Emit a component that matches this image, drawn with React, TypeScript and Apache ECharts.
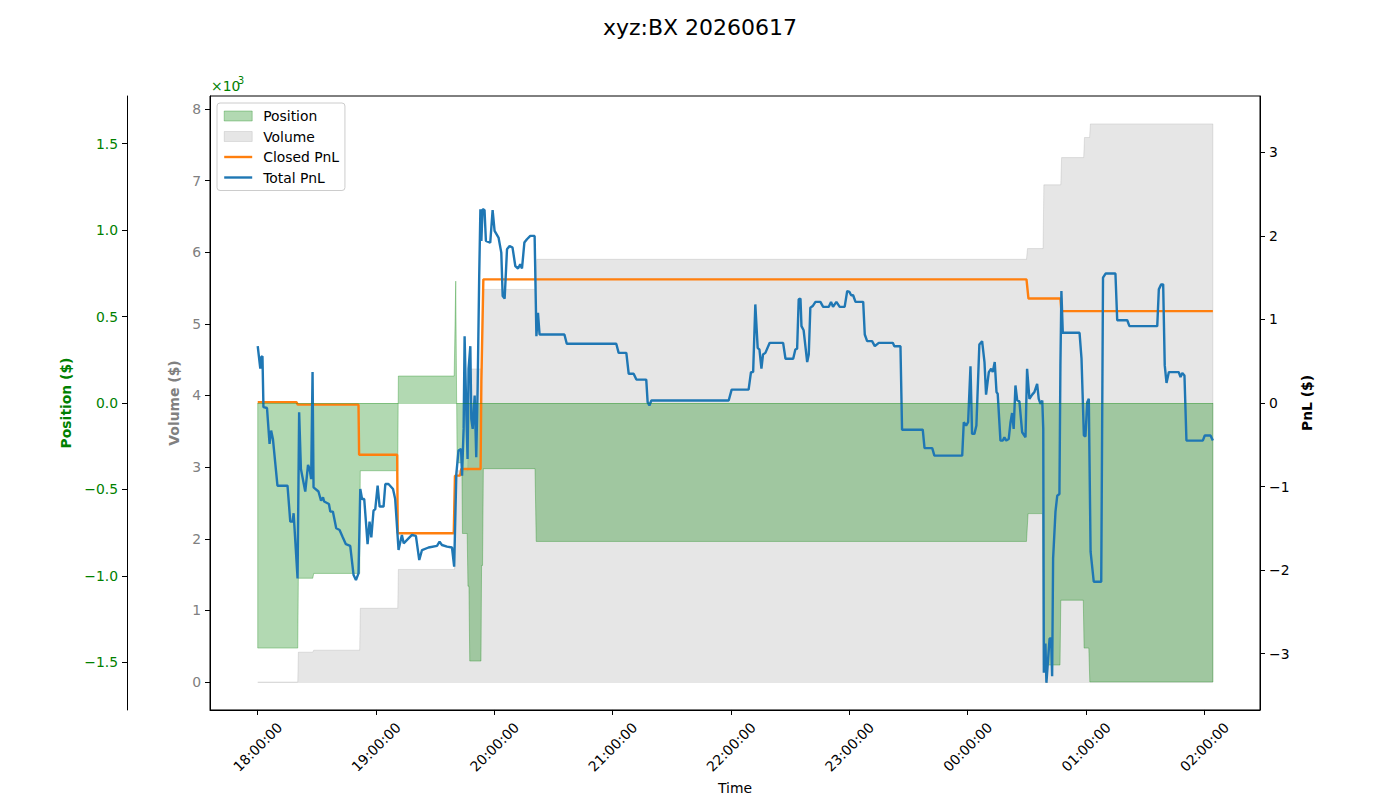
import React, { useEffect, useRef } from 'react';
import * as echarts from 'echarts';

const TITLE = 'xyz:BX 20260617';
const TIME_LABELS = ['18:00:00', '19:00:00', '20:00:00', '21:00:00', '22:00:00', '23:00:00', '00:00:00', '01:00:00', '02:00:00'];
const TICK_MINUTES = TIME_LABELS.map((_, i) => i * 60);
const X_MIN = -24.2;
const X_MAX = 508.2;

// Position ($), minutes since 18:00
const POSITION: [number, number][] = [
  [0, -1418], [20.3, -1418], [20.6, -1014], [27.9, -1014], [28.4, -986], [51.7, -986],
  [52.0, -392], [71.0, -392], [71.3, 156], [99.6, 156], [100.4, 705], [101.1, -346],
  [103.5, -346], [103.8, -755], [106.2, -755], [106.6, -1060], [107.1, -1060], [107.5, -1493],
  [113.2, -1493], [113.5, -940], [114.0, -940], [114.4, -380], [140.6, -380], [141.2, -801],
  [389.8, -801], [390.6, -640], [398.0, -640], [398.4, -1516], [406.8, -1516], [407.2, -1141],
  [418.6, -1141], [419.0, -1418], [421.4, -1418], [421.9, -1614], [484.3, -1614],
];

// Volume ($)
const VOLUME: [number, number][] = [
  [0, 0], [20.3, 0], [20.6, 417], [27.9, 417], [28.4, 445], [51.7, 445], [52.0, 1030],
  [71.0, 1030], [71.3, 1572], [99.8, 1572], [100.5, 2950], [106.5, 2950], [107.0, 4370],
  [113.6, 4370], [114.0, 5480], [141.0, 5480], [141.5, 5900], [389.8, 5900], [390.3, 6050],
  [398.2, 6050], [398.6, 6940], [407.2, 6940], [407.6, 7320], [418.8, 7320], [419.2, 7600],
  [421.8, 7600], [422.2, 7790], [484.3, 7790],
];

// Closed PnL ($)
const CLOSED_PNL: [number, number][] = [
  [0, 0.01], [19.7, 0.01], [20.3, -0.02], [51.1, -0.02], [51.4, -0.62], [70.7, -0.62],
  [71.0, -1.56], [99.4, -1.56], [100.0, -0.87], [102.6, -0.87], [103.2, -0.79], [113.0, -0.79],
  [113.4, 0.26], [114.4, 1.48], [389.8, 1.48], [390.8, 1.25], [407.0, 1.25], [407.5, 1.10],
  [484.3, 1.10],
];

// Total PnL ($)
const TOTAL_PNL: [number, number][] = [
  [0, 0.68], [1.3, 0.41], [1.8, 0.55], [2.4, 0.56], [2.9, -0.05], [4.7, -0.06], [6.0, -0.49],
  [6.8, -0.33], [7.7, -0.43], [10.0, -0.99], [15.1, -0.99], [16.5, -1.42], [17.7, -1.42],
  [18.2, -1.32], [20.2, -2.10], [21.0, -0.11], [21.9, -0.79], [24.1, -1.06], [25.5, -0.74],
  [26.3, -0.79], [27.1, -0.91], [27.8, 0.37], [28.3, -1.01], [30.8, -1.06], [32.1, -1.17],
  [33.1, -1.13], [33.7, -1.18], [36.1, -1.21], [36.8, -1.30], [38.1, -1.30], [39.8, -1.50],
  [41.5, -1.52], [43.0, -1.60], [44.7, -1.69], [46.9, -1.71], [48.6, -2.06], [49.8, -2.12],
  [51.1, -2.04], [52.0, -1.03], [52.9, -1.15], [54.0, -1.15], [55.7, -1.69], [56.7, -1.42],
  [57.6, -1.61], [58.7, -1.29], [59.6, -1.27], [60.8, -0.99], [61.8, -1.24], [63.8, -1.24],
  [64.7, -0.97], [66.3, -0.97], [68.6, -1.03], [69.7, -1.15], [71.4, -1.76], [73.1, -1.58],
  [74.0, -1.68], [78.2, -1.58], [80.2, -1.59], [81.9, -1.88], [83.3, -1.76], [86.6, -1.73],
  [90.9, -1.71], [92.2, -1.66], [93.4, -1.70], [96.0, -1.72], [98.5, -1.73], [99.6, -1.96],
  [100.7, -0.85], [101.8, -0.57], [103.1, -0.55], [103.6, -0.87], [104.4, -0.31], [104.9, 0.80],
  [105.8, -0.15], [106.4, -0.67], [106.9, 0.41], [107.8, 0.68], [108.3, -0.19], [109.0, -0.31],
  [110.0, 0.09], [110.8, -0.65], [111.5, 0.17], [112.3, 1.52], [112.9, 2.32], [113.4, 1.94],
  [114.0, 2.32], [115.0, 2.31], [115.7, 1.94], [117.9, 1.92], [119.1, 2.31], [120.1, 2.06],
  [122.1, 1.98], [123.5, 1.80], [124.2, 1.28], [125.2, 1.25], [126.4, 1.84], [127.7, 1.88],
  [129.2, 1.86], [130.6, 1.64], [132.0, 1.61], [133.1, 1.66], [134.0, 1.61], [135.2, 1.92],
  [136.5, 1.96], [138.2, 2.00], [140.4, 2.00], [141.3, 0.80], [142.1, 1.08], [142.9, 0.82],
  [155.5, 0.82], [156.7, 0.71], [181.8, 0.71], [183.0, 0.60], [186.9, 0.60], [188.1, 0.35],
  [190.6, 0.35], [192.0, 0.28], [197.0, 0.28], [197.7, 0.01], [198.6, -0.03], [199.6, 0.03],
  [238.8, 0.03], [240.3, 0.16], [248.9, 0.16], [250.1, 0.37], [251.2, 0.37], [252.3, 1.18],
  [253.5, 0.66], [254.4, 0.64], [255.4, 0.41], [256.2, 0.58], [257.4, 0.60], [259.6, 0.72],
  [266.4, 0.72], [267.6, 0.53], [271.5, 0.53], [272.6, 0.64], [273.5, 0.65], [274.3, 1.24],
  [275.2, 1.25], [275.7, 0.92], [276.8, 0.87], [278.6, 0.49], [279.4, 0.58], [280.2, 1.14],
  [281.4, 1.16], [282.8, 1.21], [285.3, 1.21], [286.7, 1.15], [289.5, 1.15], [290.7, 1.21],
  [291.7, 1.15], [293.4, 1.21], [295.1, 1.15], [297.6, 1.15], [298.9, 1.34], [300.0, 1.33],
  [300.9, 1.29], [301.9, 1.29], [303.1, 1.21], [307.0, 1.21], [307.8, 0.82], [309.0, 0.74],
  [311.5, 0.74], [312.9, 0.68], [314.9, 0.72], [322.0, 0.72], [322.8, 0.68], [325.9, 0.68],
  [326.7, -0.32], [337.2, -0.32], [338.1, -0.54], [342.0, -0.54], [343.1, -0.63], [357.2, -0.63],
  [358.0, -0.23], [359.2, -0.27], [360.2, -0.23], [361.4, 0.44], [362.2, -0.37], [363.4, -0.37],
  [364.4, -0.27], [365.9, 0.70], [367.3, 0.74], [368.5, 0.49], [369.3, 0.10], [370.7, 0.37],
  [371.9, 0.41], [372.7, 0.37], [373.7, 0.49], [374.6, 0.13], [375.2, 0.11], [376.6, -0.45],
  [377.8, -0.45], [378.6, -0.41], [379.5, -0.45], [380.8, -0.43], [381.7, -0.23], [382.5, -0.12],
  [383.3, -0.31], [384.2, 0.21], [385.1, 0.03], [386.2, 0.02], [387.6, -0.35], [389.3, -0.41],
  [390.1, 0.41], [391.3, 0.05], [392.7, 0.10], [393.8, 0.13], [395.2, 0.23], [396.0, 0.05],
  [396.9, -0.01], [397.8, 0.03], [398.3, -0.31], [398.6, -3.23], [399.4, -2.88], [399.9, -3.35],
  [401.5, -2.82], [402.3, -2.82], [402.8, -3.27], [403.3, -1.86], [404.5, -1.30], [405.4, -1.11],
  [406.5, -1.09], [407.0, 0.45], [407.5, 1.34], [408.2, 0.84], [416.7, 0.84], [417.7, 0.53],
  [418.9, -0.39], [419.7, -0.40], [420.6, 0.01], [421.4, 0.05], [422.3, -1.78], [423.9, -2.14],
  [427.7, -2.14], [428.6, 1.50], [429.9, 1.55], [434.9, 1.55], [435.8, 0.99], [440.9, 0.99],
  [442.0, 0.92], [456.1, 0.92], [456.9, 1.36], [458.1, 1.42], [459.1, 1.42], [459.9, 0.45],
  [460.8, 0.24], [462.0, 0.37], [467.0, 0.37], [467.9, 0.31], [468.8, 0.36], [469.9, 0.33],
  [470.9, -0.45], [479.2, -0.45], [480.2, -0.39], [483.1, -0.39], [484.3, -0.45],
];

const VOL_TICKS = [0, 1000, 2000, 3000, 4000, 5000, 6000, 7000, 8000];
const POS_TICKS = [-1500, -1000, -500, 0, 500, 1000, 1500];
const PNL_TICKS = [-3, -2, -1, 0, 1, 2, 3];

const FONT = 'DejaVu Sans';
const FS = 13.9;
const POS_COLOR = 'rgba(0,128,0,0.3)';
const VOL_COLOR = 'rgba(128,128,128,0.2)';
const CLOSED_COLOR = '#ff7f0e';
const TOTAL_COLOR = '#1f77b4';
const LW = 2.4;
const minus = (s: string) => s.replace('-', '\u2212');

const closeArea = (arr: [number, number][]) => [
  [arr[0][0], 0],
  ...arr,
  [arr[arr.length - 1][0], 0],
];

const baseline = (arr: [number, number][], color: string) => ({
  silent: true,
  symbol: ['none', 'none'],
  label: { show: false },
  lineStyle: { color, width: 1, type: 'solid' },
  emphasis: { disabled: true },
  data: [[{ coord: [arr[0][0], 0] }, { coord: [arr[arr.length - 1][0], 0] }]],
});

export default function App() {
  const ref = useRef<HTMLDivElement>(null);
  useEffect(() => {
    document.body.style.margin = '0';
    if (!ref.current) return;
    const chart = echarts.init(ref.current, undefined, { renderer: 'svg' });
    const yAxisCommon = {
      type: 'value',
      splitLine: { show: false },
      axisLine: { show: true, onZero: false, lineStyle: { color: '#000', width: 1 } },
    };
    chart.setOption({
      animation: false,
      backgroundColor: '#fff',
      textStyle: { fontFamily: FONT },
      title: {
        text: TITLE,
        left: 'center',
        top: 11,
        textStyle: { fontSize: 22, fontWeight: 'normal', color: '#000', fontFamily: FONT },
      },
      legend: {
        left: 217,
        top: 103,
        orient: 'vertical',
        backgroundColor: 'rgba(255,255,255,0.8)',
        borderColor: '#cccccc',
        borderWidth: 1,
        borderRadius: 3,
        padding: [6, 6, 6, 6],
        itemWidth: 28,
        itemHeight: 10,
        itemGap: 6.5,
        textStyle: { fontSize: FS, color: '#000', fontFamily: FONT, padding: [0, 0, 0, 6] },
        data: [
          { name: 'Position', icon: 'rect', itemStyle: { color: POS_COLOR, borderColor: POS_COLOR, borderWidth: 1 } },
          { name: 'Volume', icon: 'rect', itemStyle: { color: VOL_COLOR, borderColor: VOL_COLOR, borderWidth: 1 } },
          {
            name: 'Closed PnL',
            itemStyle: { opacity: 0, color: 'rgba(0,0,0,0)', borderWidth: 0 },
            lineStyle: { color: CLOSED_COLOR, width: LW },
          },
          {
            name: 'Total PnL',
            itemStyle: { opacity: 0, color: 'rgba(0,0,0,0)', borderWidth: 0 },
            lineStyle: { color: TOTAL_COLOR, width: LW },
          },
        ],
      },
      graphic: [
        {
          type: 'text',
          left: 211,
          top: 79,
          style: { text: '\u00d710', fill: '#008000', font: `${FS}px "${FONT}"` },
        },
        {
          type: 'text',
          left: 238,
          top: 75,
          style: { text: '3', fill: '#008000', font: `9.7px "${FONT}"` },
        },
      ],
      grid: {
        left: 210,
        right: 140,
        top: 96,
        bottom: 88,
        show: true,
        borderColor: '#000',
        borderWidth: 1,
        backgroundColor: 'transparent',
      },
      xAxis: {
        type: 'value',
        min: X_MIN,
        max: X_MAX,
        name: 'Time',
        nameLocation: 'middle',
        nameGap: 67,
        nameTextStyle: { fontSize: FS, color: '#000', fontFamily: FONT },
        splitLine: { show: false },
        axisLine: { show: true, onZero: false, lineStyle: { color: '#000', width: 1 } },
        axisTick: { show: true, customValues: TICK_MINUTES, length: 5, lineStyle: { color: '#000' } },
        axisLabel: {
          customValues: TICK_MINUTES,
          rotate: 45,
          align: 'center',
          verticalAlign: 'middle',
          margin: 37,
          fontSize: FS,
          color: '#000',
          fontFamily: FONT,
          formatter: (v: number) => TIME_LABELS[Math.round(v / 60)] ?? '',
        },
      },
      yAxis: [
        {
          ...yAxisCommon,
          position: 'left',
          offset: 0,
          min: -389.5,
          max: 8179.5,
          name: 'Volume ($)',
          nameLocation: 'middle',
          nameGap: 27,
          nameTextStyle: { fontSize: FS, color: '#808080', fontWeight: 'bold', fontFamily: FONT },
          axisTick: { show: true, customValues: VOL_TICKS, length: 5, lineStyle: { color: '#000' } },
          axisLabel: {
            customValues: VOL_TICKS,
            color: '#808080',
            fontSize: FS,
            fontFamily: FONT,
            margin: 9,
            formatter: (v: number) => minus(String(Math.round(v / 1000))),
          },
        },
        {
          ...yAxisCommon,
          position: 'left',
          offset: 83,
          min: -1776,
          max: 1776,
          name: 'Position ($)',
          nameLocation: 'middle',
          nameGap: 50,
          nameTextStyle: { fontSize: FS, color: '#008000', fontWeight: 'bold', fontFamily: FONT },
          axisTick: { show: true, customValues: POS_TICKS, length: 5, lineStyle: { color: '#000' } },
          axisLabel: {
            customValues: POS_TICKS,
            color: '#008000',
            fontSize: FS,
            fontFamily: FONT,
            margin: 9,
            formatter: (v: number) => minus((v / 1000).toFixed(1)),
          },
        },
        {
          ...yAxisCommon,
          position: 'right',
          offset: 0,
          min: -3.675,
          max: 3.675,
          name: 'PnL ($)',
          nameLocation: 'middle',
          nameGap: 29,
          nameTextStyle: { fontSize: FS, color: '#000', fontWeight: 'bold', fontFamily: FONT },
          axisTick: { show: true, customValues: PNL_TICKS, length: 5, lineStyle: { color: '#000' } },
          axisLabel: {
            customValues: PNL_TICKS,
            color: '#000',
            fontSize: FS,
            fontFamily: FONT,
            margin: 9,
            formatter: (v: number) => minus(String(Math.round(v))),
          },
        },
      ],
      series: [
        {
          name: 'Volume',
          type: 'line',
          yAxisIndex: 0,
          data: closeArea(VOLUME),
          symbol: 'none',
          color: VOL_COLOR,
          lineStyle: { color: VOL_COLOR, width: 1 },
          areaStyle: { color: VOL_COLOR, origin: 0, opacity: 1 },
          markLine: baseline(VOLUME, VOL_COLOR),
          z: 1,
        },
        {
          name: 'Position',
          type: 'line',
          yAxisIndex: 1,
          data: closeArea(POSITION),
          symbol: 'none',
          color: POS_COLOR,
          lineStyle: { color: POS_COLOR, width: 1 },
          areaStyle: { color: POS_COLOR, origin: 0, opacity: 1 },
          markLine: baseline(POSITION, POS_COLOR),
          z: 2,
        },
        {
          name: 'Closed PnL',
          type: 'line',
          yAxisIndex: 2,
          data: CLOSED_PNL,
          symbol: 'none',
          color: CLOSED_COLOR,
          lineStyle: { color: CLOSED_COLOR, width: LW },
          z: 3,
        },
        {
          name: 'Total PnL',
          type: 'line',
          yAxisIndex: 2,
          data: TOTAL_PNL,
          symbol: 'none',
          color: TOTAL_COLOR,
          lineStyle: { color: TOTAL_COLOR, width: LW },
          z: 4,
        },
      ],
    });
    return () => chart.dispose();
  }, []);
  return <div ref={ref} style={{ width: 1400, height: 800 }} />;
}
